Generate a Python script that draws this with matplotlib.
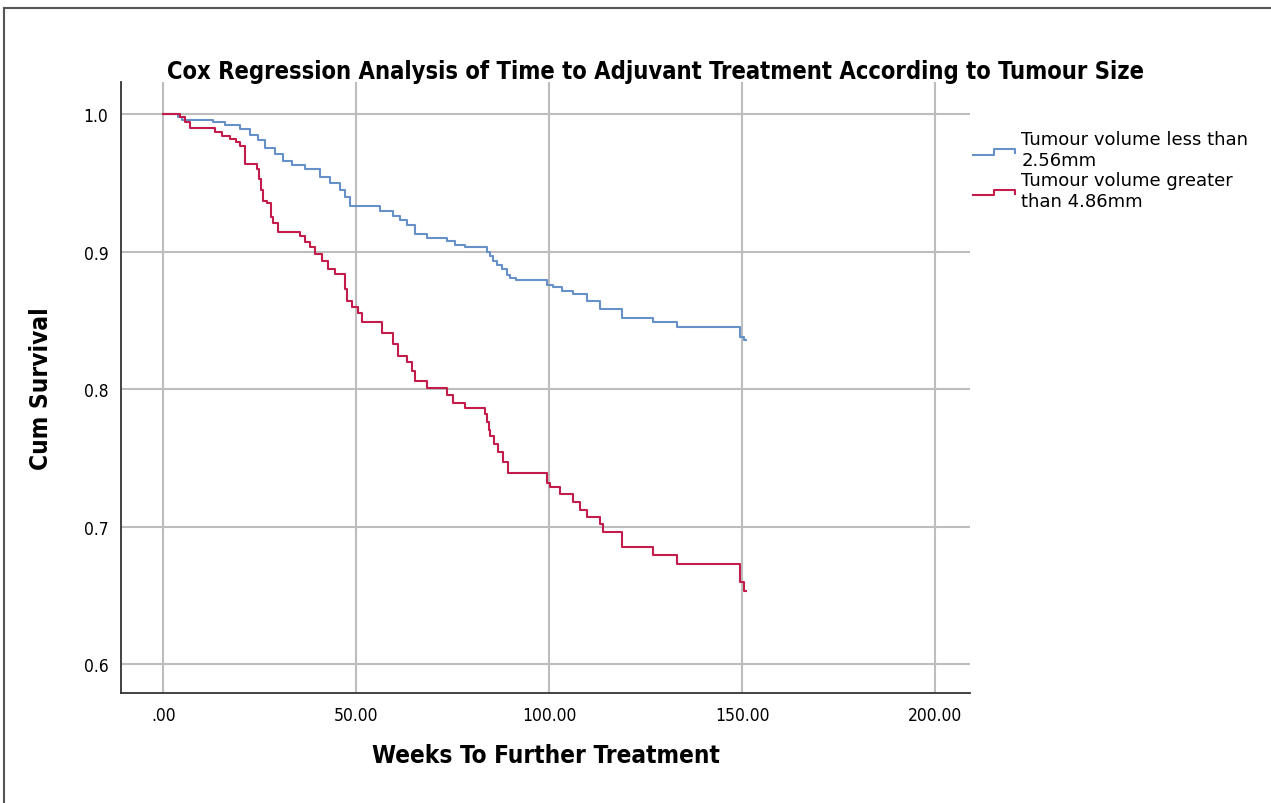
import matplotlib
matplotlib.use("Agg")
import matplotlib.pyplot as plt
from matplotlib.legend_handler import HandlerBase
from matplotlib.lines import Line2D

# Daten (Wochen, kumulatives Überleben nach dem Schritt)
small_weeks = [0, 3.8, 4.8, 12.8, 15.9, 19.8, 22.4, 24.5, 26.3, 28.9, 31.0, 33.3,
               36.7, 40.5, 43.1, 45.7, 47.0, 48.3, 56.1, 59.4, 61.3, 63.1, 65.2,
               68.3, 73.4, 75.5, 78.1, 83.8, 84.6, 85.4, 86.4, 87.7, 89.0, 89.8,
               91.3, 99.4, 100.9, 103.2, 106.1, 109.7, 113.1, 118.8, 126.8, 133.0,
               149.4, 150.4, 151.0]
small_surv = [1.0, 0.998, 0.996, 0.994, 0.992, 0.989, 0.985, 0.981, 0.975, 0.971,
              0.966, 0.963, 0.960, 0.954, 0.950, 0.945, 0.940, 0.933, 0.9295, 0.926,
              0.923, 0.919, 0.913, 0.910, 0.908, 0.905, 0.903, 0.900, 0.897, 0.893,
              0.890, 0.887, 0.883, 0.881, 0.879, 0.876, 0.874, 0.871, 0.869, 0.864,
              0.858, 0.852, 0.849, 0.845, 0.838, 0.836, 0.836]

large_weeks = [0, 4.3, 5.6, 6.9, 13.3, 15.2, 17.2, 18.8, 19.8, 21.1, 24.2, 24.7,
               25.3, 25.8, 26.8, 27.9, 28.4, 29.7, 35.4, 36.7, 38.0, 39.2, 41.1,
               42.6, 44.4, 47.0, 47.5, 48.8, 50.4, 51.4, 56.6, 59.5, 60.8, 63.1,
               64.4, 65.2, 68.3, 73.4, 75.0, 78.1, 83.3, 83.8, 84.3, 84.6, 85.6,
               86.7, 88.0, 89.2, 99.4, 100.2, 102.7, 106.1, 107.9, 109.7, 113.1,
               113.9, 118.8, 126.8, 133.0, 149.4, 150.4, 151.0]
large_surv = [1.0, 0.998, 0.994, 0.990, 0.987, 0.984, 0.982, 0.980, 0.977, 0.964,
              0.960, 0.953, 0.945, 0.937, 0.935, 0.925, 0.921, 0.914, 0.911, 0.907,
              0.903, 0.898, 0.893, 0.887, 0.884, 0.873, 0.864, 0.860, 0.855, 0.849,
              0.841, 0.833, 0.824, 0.820, 0.813, 0.806, 0.801, 0.796, 0.790, 0.786,
              0.782, 0.776, 0.770, 0.766, 0.760, 0.754, 0.747, 0.739, 0.732, 0.729,
              0.724, 0.718, 0.712, 0.707, 0.702, 0.696, 0.685, 0.679, 0.673, 0.660,
              0.653, 0.653]

x_ticks = [0, 50, 100, 150, 200]
x_ticklabels = [".00", "50.00", "100.00", "150.00", "200.00"]
y_ticks = [0.6, 0.7, 0.8, 0.9, 1.0]
y_ticklabels = ["0.6", "0.7", "0.8", "0.9", "1.0"]

labels = ["Tumour volume less than\n2.56mm", "Tumour volume greater\nthan 4.86mm"]
colors = ["#6690c8", "#c41c4a"]

narrow = {"family": "DejaVu Sans", "stretch": "condensed"}


class StepHandler(HandlerBase):
    # kleines Treppensymbol für die Legende
    def create_artists(self, legend, orig_handle, xdescent, ydescent,
                       width, height, fontsize, trans):
        x0, x1 = -xdescent, -xdescent + width
        xm = x0 + width * 0.5
        y0, y1 = -ydescent + height * 0.15, -ydescent + height * 0.6
        ln = Line2D([x0, xm, xm, x1, x1], [y0, y0, y1, y1, y1 - height * 0.35],
                    color=orig_handle.get_color(), lw=1.5, transform=trans)
        return [ln]


fig = plt.figure(figsize=(12.71, 8.04), dpi=100)
ax = fig.add_axes([0.0952, 0.1368, 0.668, 0.7600])

ax.step(small_weeks, small_surv, where="post", color=colors[0], lw=1.5, label=labels[0])
ax.step(large_weeks, large_surv, where="post", color=colors[1], lw=1.5, label=labels[1])

ax.set_xlim(-11, 209)
ax.set_ylim(0.579, 1.0233)
ax.set_xticks(x_ticks)
ax.set_xticklabels(x_ticklabels, fontsize=12.5, **narrow)
ax.set_yticks(y_ticks)
ax.set_yticklabels(y_ticklabels, fontsize=12.5, **narrow)
ax.tick_params(length=0, pad=9)
ax.grid(True, color="#bdbdbd", lw=1.5)
ax.set_axisbelow(True)
for s in ["top", "right"]:
    ax.spines[s].set_visible(False)
for s in ["left", "bottom"]:
    ax.spines[s].set_color("#333333")
    ax.spines[s].set_linewidth(1.3)

ax.set_xlabel("Weeks To Further Treatment", fontweight="bold",
              fontsize=17.5, labelpad=14, **narrow)
ax.set_ylabel("Cum Survival", fontweight="bold", fontsize=17.5,
              labelpad=22, **narrow)

fig.text(0.516, 0.910, "Cox Regression Analysis of Time to Adjuvant Treatment According to Tumour Size",
         fontweight="bold", fontsize=17, ha="center", va="center", **narrow)

handles = [Line2D([], [], color=c) for c in colors]
fig.legend(handles, labels, handler_map={Line2D: StepHandler()},
           loc="upper left", bbox_to_anchor=(0.753, 0.857), frameon=False,
           handlelength=2.3, handletextpad=0.35, labelspacing=0.1,
           prop={"family": "DejaVu Sans", "size": 13})

# Rahmen um das Bild (oben und links)
fig.add_artist(Line2D([4 / 1271, 1], [1 - 9 / 804, 1 - 9 / 804], color="#555555",
                      lw=1.5, transform=fig.transFigure))
fig.add_artist(Line2D([4 / 1271, 4 / 1271], [0, 1 - 9 / 804], color="#555555",
                      lw=1.5, transform=fig.transFigure))

fig.savefig("out.png", dpi=100)
